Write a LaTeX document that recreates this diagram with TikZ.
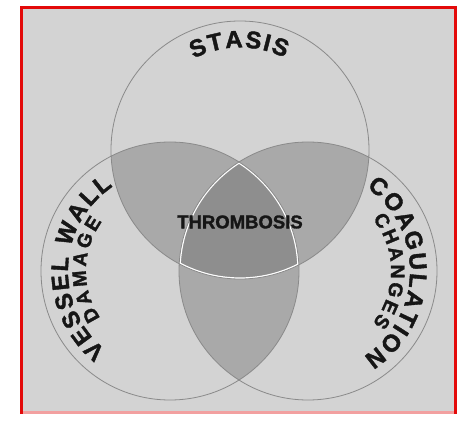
\documentclass[tikz,border=0pt]{standalone}
\usepackage{fontspec}
\setmainfont{Liberation Sans}
\newfontfamily\heavyfont{Liberation Sans}[BoldFeatures={FakeBold=1.6}]
\usetikzlibrary{decorations.text}
\definecolor{bg}{HTML}{D3D3D3}
\definecolor{two}{HTML}{A9A9A9}
\definecolor{three}{HTML}{8E8E8E}
\definecolor{rim}{HTML}{8A8A8A}
\definecolor{ink}{HTML}{161616}
\definecolor{frame}{HTML}{E30A0A}
\definecolor{framelow}{HTML}{F2A0A0}
\newcommand{\bigf}{\heavyfont\fontsize{24}{24}\selectfont\bfseries}
\newcommand{\smallf}{\heavyfont\fontsize{19.5}{19.5}\selectfont\bfseries}
\begin{document}
\begin{tikzpicture}[x=1pt,y=1pt,
  arclabel/.style={decorate, decoration={text along path, text={#1}, text align={fit to path}, text color=ink}},
  venn/.style={draw=rim, line width=0.8pt},
]
\useasboundingbox (0,0) rectangle (458,421);
\fill[white] (0,0) rectangle (458,421);
\fill[bg] (21.5,8.5) rectangle (455.5,413.5);
\coordinate (T) at (240,271);
\coordinate (L) at (170,150);
\coordinate (R) at (308,150);
\def\rad{129}
% pairwise overlaps
\begin{scope}
  \clip (T) circle[radius=\rad];
  \fill[two] (L) circle[radius=\rad];
  \fill[two] (R) circle[radius=\rad];
\end{scope}
\begin{scope}
  \clip (L) circle[radius=\rad];
  \fill[two] (R) circle[radius=\rad];
\end{scope}
% triple overlap
\begin{scope}
  \clip (T) circle[radius=\rad];
  \clip (L) circle[radius=\rad];
  \clip (R) circle[radius=\rad];
  \fill[three] (T) circle[radius=\rad];
  \draw[white, line width=3.2pt] (T) circle[radius=\rad];
  \draw[white, line width=3.2pt] (L) circle[radius=\rad];
  \draw[white, line width=3.2pt] (R) circle[radius=\rad];
\end{scope}
% outlines
\draw[venn] (T) circle[radius=\rad];
\draw[venn] (L) circle[radius=\rad];
\draw[venn] (R) circle[radius=\rad];
% curved labels
\path[arclabel={|\bigf|STASIS}] ([shift={(117:102.5)}]T) arc[start angle=117, end angle=64, radius=102.5];
\path[arclabel={|\bigf|VESSEL WALL}] ([shift={(231:102)}]L) arc[start angle=231, end angle=124, radius=102];
\path[arclabel={|\smallf|DAMAGE}] ([shift={(214:84)}]L) arc[start angle=214, end angle=144, radius=84];
\path[arclabel={|\bigf|COAGULATION}] ([shift={(55:102)}]R) arc[start angle=55, end angle=-57, radius=102];
\path[arclabel={|\smallf|CHANGES}] ([shift={(39:83)}]R) arc[start angle=39, end angle=-39, radius=83];
% centre label
\node[text=ink, font=\heavyfont\fontsize{18.5}{18.5}\selectfont\bfseries, inner sep=0pt] (thr) at (240,199) {THROMBOSIS};
% frame
\draw[framelow, line width=3pt] (21.5,8.5) -- (455.5,8.5);
\draw[frame, line width=3pt] (21.5,7) -- (21.5,413.5) -- (455.5,413.5) -- (455.5,7);
\end{tikzpicture}
\end{document}
